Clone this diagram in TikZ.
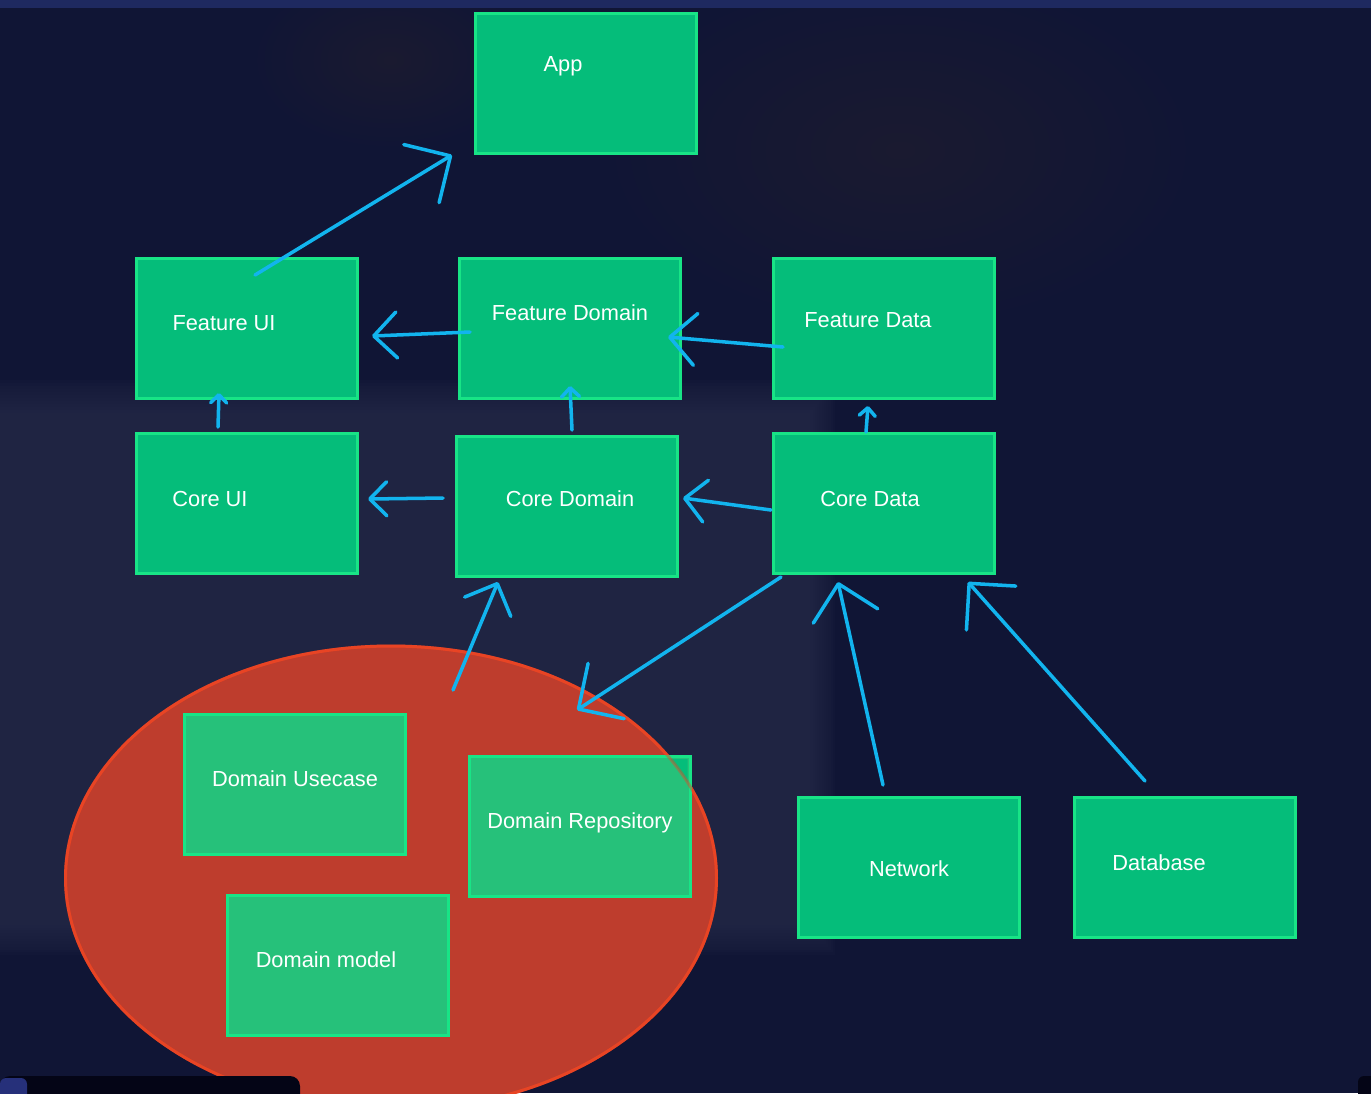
\documentclass[tikz,border=0pt]{standalone}
\usepackage{fontspec}
\setmainfont{Liberation Sans}
\usetikzlibrary{arrows.meta,shapes.geometric}
\definecolor{bgdark}{RGB}{16,21,53}
\definecolor{bglight}{RGB}{40,45,75}
\definecolor{bghaze}{RGB}{26,26,48}
\definecolor{topbar}{RGB}{30,41,96}
\definecolor{boxgreen}{RGB}{5,189,122}
\definecolor{boxline}{RGB}{24,228,134}
\definecolor{innergreen}{RGB}{38,193,122}
\definecolor{layerred}{RGB}{190,61,45}
\definecolor{layerline}{RGB}{232,68,36}
\definecolor{arrowblue}{RGB}{18,180,238}
\definecolor{toolbar}{RGB}{4,5,22}
\definecolor{toolsel}{RGB}{38,48,122}

\begin{document}
\begin{tikzpicture}[
    modbox/.style={rectangle, draw=boxline, fill=boxgreen, line width=0.85pt,
        minimum width=2.21cm, minimum height=1.40cm, inner sep=0pt},
    inbox/.style={modbox, fill=innergreen},
    lbl/.style={text=white, font=\fontsize{6.2}{7.4}\selectfont,
        inner sep=0pt, text height=1.55mm, text depth=0pt},
    dep/.style={draw=arrowblue, line width=1pt, line cap=round,
        -{Straight Barb[length=#1, width'=0pt 2, round]}},
    dep/.default=3.3mm
]
    \useasboundingbox (0,0) rectangle (13.71,-10.93);
    \clip (0,0) rectangle (13.71,-10.93);

    % Background
    \fill[bgdark] (0,0) rectangle (13.71,-10.93);
    \shade[inner color=bghaze, outer color=bgdark] (9.0,-1.5) ellipse [x radius=3.0cm, y radius=1.8cm];
    \shade[inner color=bghaze, outer color=bgdark] (3.9,-0.6) ellipse [x radius=1.4cm, y radius=0.9cm];
    \foreach \k in {0,...,19}
        \fill[bglight, opacity=0.1] (-0.5,{-3.8-0.03*\k}) rectangle ({8.35-0.0225*\k},{-9.55+0.0275*\k});
    \fill[topbar] (0,0) rectangle (13.71,-0.08);

    % Domain layer
    \node[ellipse, fill=layerred, draw=layerline, line width=0.85pt, inner sep=0pt,
        minimum width=6.51cm, minimum height=4.64cm] (dlayer) at (3.91,-8.78) {};

    % Top
    \node[modbox, label={[lbl, xshift=-2.3mm, yshift=1.95mm]center:App}] (app) at (5.86,-0.835) {};

    % Feature layer
    \node[modbox, label={[lbl, xshift=-2.3mm, yshift=0.55mm]center:Feature UI}] (fui) at (2.47,-3.285) {};
    \node[modbox, label={[lbl, yshift=1.55mm]center:Feature Domain}] (fdom) at (5.70,-3.285) {};
    \node[modbox, label={[lbl, xshift=-1.6mm, yshift=0.85mm]center:Feature Data}] (fdat) at (8.84,-3.285) {};

    % Core layer
    \node[modbox, label={[lbl, xshift=-3.7mm, yshift=0.45mm]center:Core UI}] (cui) at (2.47,-5.035) {};
    \node[modbox, label={[lbl, xshift=0.3mm, yshift=0.75mm]center:Core Domain}] (cdom) at (5.67,-5.065) {};
    \node[modbox, label={[lbl, xshift=-1.4mm, yshift=0.45mm]center:Core Data}] (cdat) at (8.84,-5.035) {};

    % Inside the domain layer
    \node[inbox, label={[lbl, yshift=0.55mm]center:Domain Usecase}] (duse) at (2.95,-7.845) {};
    \node[inbox, label={[lbl, yshift=0.55mm]center:Domain Repository}] (drepo) at (5.80,-8.265) {};
    \node[inbox, label={[lbl, xshift=-1.2mm, yshift=0.55mm]center:Domain model}] (dmod) at (3.38,-9.655) {};
    \begin{scope}
        \clip ([shift={(0.43mm,-0.43mm)}]drepo.north west) rectangle ([shift={(-0.43mm,0.43mm)}]drepo.south east);
        \fill[boxgreen, even odd rule] (drepo.north west) rectangle (drepo.south east)
            (dlayer.center) ellipse [x radius=3.255cm, y radius=2.32cm];
    \end{scope}
    \draw[layerline, line width=0.85pt, opacity=0.45] (dlayer.center) ellipse [x radius=3.255cm, y radius=2.32cm];

    % Sources
    \node[modbox, label={[lbl, yshift=-0.15mm]center:Network}] (net) at (9.09,-8.675) {};
    \node[modbox, label={[lbl, xshift=-2.6mm, yshift=0.45mm]center:Database}] (db) at (11.85,-8.675) {};

    % Dependencies
    \draw[dep=3.4mm] ([shift={(0.08,0.535)}]fui.center) -- ([shift={(-1.34,-0.715)}]app.center);
    \draw[dep=2.3mm] ([shift={(-1.00,-0.035)}]fdom.center) -- ([shift={(1.25,-0.075)}]fui.center);
    \draw[dep=2.6mm] ([shift={(-1.01,-0.185)}]fdat.center) -- ([shift={(0.98,-0.085)}]fdom.center);
    \draw[dep=0.8mm] ([shift={(-0.29,0.765)}]cui.center) -- ([shift={(-0.28,-0.645)}]fui.center);
    \draw[dep=0.9mm] ([shift={(0.05,0.765)}]cdom.center) -- ([shift={(0,-0.575)}]fdom.center);
    \draw[dep=0.8mm] ([shift={(-0.18,0.715)}]cdat.center) -- ([shift={(-0.16,-0.775)}]fdat.center);
    \draw[dep=1.7mm] ([shift={(-1.24,0.085)}]cdom.center) -- ([shift={(1.21,0.045)}]cui.center);
    \draw[dep=2.1mm] ([shift={(-1.13,-0.065)}]cdat.center) -- ([shift={(1.16,0.085)}]cdom.center);
    \draw[dep=2.5mm] ([shift={(0.62,1.88)}]dlayer.center) -- ([shift={(-0.69,-0.755)}]cdom.center);
    \draw[dep] ([shift={(-1.03,-0.735)}]cdat.center) -- ([shift={(1.86,1.68)}]dlayer.center);
    \draw[dep] ([shift={(-0.26,0.825)}]net.center) -- ([shift={(-0.46,-0.785)}]cdat.center);
    \draw[dep] ([shift={(-0.40,0.865)}]db.center) -- ([shift={(0.84,-0.785)}]cdat.center);

    % Toolbar
    \fill[toolbar, rounded corners=1mm] (0,-10.76) rectangle (3.0,-11.2);
    \fill[toolsel, rounded corners=0.6mm] (0,-10.78) rectangle (0.27,-11.1);
    \fill[toolbar, rounded corners=0.6mm] (13.58,-10.76) rectangle (13.9,-11.1);
\end{tikzpicture}
\end{document}
